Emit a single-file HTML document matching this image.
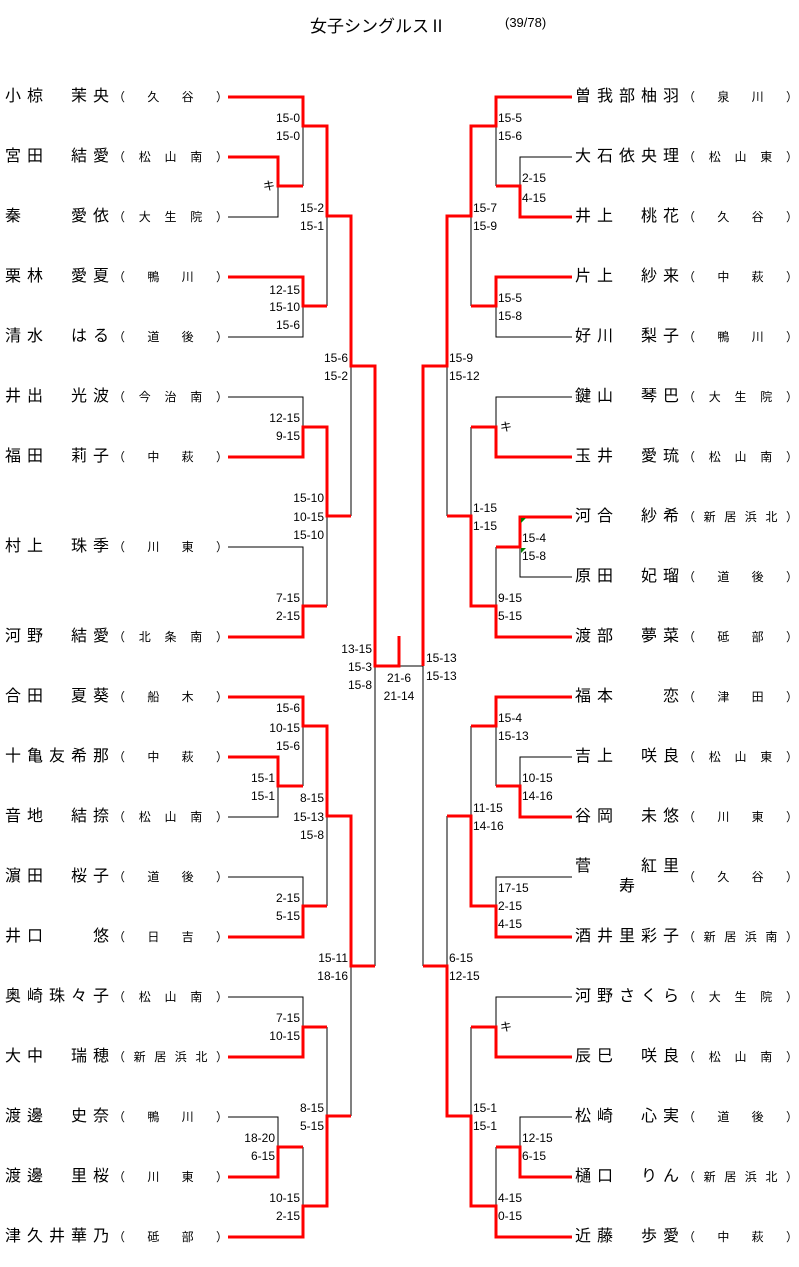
<!DOCTYPE html>
<html><head><meta charset="utf-8"><style>
body{margin:0;background:#fff;width:799px;height:1267px;overflow:hidden;position:relative;font-family:"Liberation Sans","Noto Sans CJK JP",sans-serif}
.n{position:absolute;font-size:16px;letter-spacing:6px;line-height:18px;white-space:pre;color:#000}
.s{position:absolute;width:115px;display:flex;justify-content:space-between;font-size:12px;line-height:14px;color:#000}
svg{position:absolute;left:0;top:0}
</style></head><body>
<div style="position:absolute;left:310px;top:12px;font-size:17px;white-space:pre">女子シングルスⅡ</div>
<div style="position:absolute;left:505px;top:15px;font-size:13px;white-space:pre">(39/78)</div>

<div class="n" style="left:5px;top:88px">小椋　茉央</div><div class="s" style="left:113px;top:90px"><span>（</span><span>久</span><span>谷</span><span>）</span></div>
<div class="n" style="left:5px;top:148px">宮田　結愛</div><div class="s" style="left:113px;top:150px"><span>（</span><span>松</span><span>山</span><span>南</span><span>）</span></div>
<div class="n" style="left:5px;top:208px">秦　　愛依</div><div class="s" style="left:113px;top:210px"><span>（</span><span>大</span><span>生</span><span>院</span><span>）</span></div>
<div class="n" style="left:5px;top:268px">栗林　愛夏</div><div class="s" style="left:113px;top:270px"><span>（</span><span>鴨</span><span>川</span><span>）</span></div>
<div class="n" style="left:5px;top:328px">清水　はる</div><div class="s" style="left:113px;top:330px"><span>（</span><span>道</span><span>後</span><span>）</span></div>
<div class="n" style="left:5px;top:388px">井出　光波</div><div class="s" style="left:113px;top:390px"><span>（</span><span>今</span><span>治</span><span>南</span><span>）</span></div>
<div class="n" style="left:5px;top:448px">福田　莉子</div><div class="s" style="left:113px;top:450px"><span>（</span><span>中</span><span>萩</span><span>）</span></div>
<div class="n" style="left:5px;top:538px">村上　珠季</div><div class="s" style="left:113px;top:540px"><span>（</span><span>川</span><span>東</span><span>）</span></div>
<div class="n" style="left:5px;top:628px">河野　結愛</div><div class="s" style="left:113px;top:630px"><span>（</span><span>北</span><span>条</span><span>南</span><span>）</span></div>
<div class="n" style="left:5px;top:688px">合田　夏葵</div><div class="s" style="left:113px;top:690px"><span>（</span><span>船</span><span>木</span><span>）</span></div>
<div class="n" style="left:5px;top:748px">十亀友希那</div><div class="s" style="left:113px;top:750px"><span>（</span><span>中</span><span>萩</span><span>）</span></div>
<div class="n" style="left:5px;top:808px">音地　結捺</div><div class="s" style="left:113px;top:810px"><span>（</span><span>松</span><span>山</span><span>南</span><span>）</span></div>
<div class="n" style="left:5px;top:868px">濵田　桜子</div><div class="s" style="left:113px;top:870px"><span>（</span><span>道</span><span>後</span><span>）</span></div>
<div class="n" style="left:5px;top:928px">井口　　悠</div><div class="s" style="left:113px;top:930px"><span>（</span><span>日</span><span>吉</span><span>）</span></div>
<div class="n" style="left:5px;top:988px">奥崎珠々子</div><div class="s" style="left:113px;top:990px"><span>（</span><span>松</span><span>山</span><span>南</span><span>）</span></div>
<div class="n" style="left:5px;top:1048px">大中　瑞穂</div><div class="s" style="left:113px;top:1050px"><span>（</span><span>新</span><span>居</span><span>浜</span><span>北</span><span>）</span></div>
<div class="n" style="left:5px;top:1108px">渡邊　史奈</div><div class="s" style="left:113px;top:1110px"><span>（</span><span>鴨</span><span>川</span><span>）</span></div>
<div class="n" style="left:5px;top:1168px">渡邊　里桜</div><div class="s" style="left:113px;top:1170px"><span>（</span><span>川</span><span>東</span><span>）</span></div>
<div class="n" style="left:5px;top:1228px">津久井華乃</div><div class="s" style="left:113px;top:1230px"><span>（</span><span>砥</span><span>部</span><span>）</span></div>

<div class="n" style="left:575px;top:88px">曽我部柚羽</div><div class="s" style="left:683px;top:90px"><span>（</span><span>泉</span><span>川</span><span>）</span></div>
<div class="n" style="left:575px;top:148px">大石依央理</div><div class="s" style="left:683px;top:150px"><span>（</span><span>松</span><span>山</span><span>東</span><span>）</span></div>
<div class="n" style="left:575px;top:208px">井上　桃花</div><div class="s" style="left:683px;top:210px"><span>（</span><span>久</span><span>谷</span><span>）</span></div>
<div class="n" style="left:575px;top:268px">片上　紗来</div><div class="s" style="left:683px;top:270px"><span>（</span><span>中</span><span>萩</span><span>）</span></div>
<div class="n" style="left:575px;top:328px">好川　梨子</div><div class="s" style="left:683px;top:330px"><span>（</span><span>鴨</span><span>川</span><span>）</span></div>
<div class="n" style="left:575px;top:388px">鍵山　琴巴</div><div class="s" style="left:683px;top:390px"><span>（</span><span>大</span><span>生</span><span>院</span><span>）</span></div>
<div class="n" style="left:575px;top:448px">玉井　愛琉</div><div class="s" style="left:683px;top:450px"><span>（</span><span>松</span><span>山</span><span>南</span><span>）</span></div>
<div class="n" style="left:575px;top:508px">河合　紗希</div><div class="s" style="left:683px;top:510px"><span>（</span><span>新</span><span>居</span><span>浜</span><span>北</span><span>）</span></div>
<div class="n" style="left:575px;top:568px">原田　妃瑠</div><div class="s" style="left:683px;top:570px"><span>（</span><span>道</span><span>後</span><span>）</span></div>
<div class="n" style="left:575px;top:628px">渡部　夢菜</div><div class="s" style="left:683px;top:630px"><span>（</span><span>砥</span><span>部</span><span>）</span></div>
<div class="n" style="left:575px;top:688px">福本　　恋</div><div class="s" style="left:683px;top:690px"><span>（</span><span>津</span><span>田</span><span>）</span></div>
<div class="n" style="left:575px;top:748px">吉上　咲良</div><div class="s" style="left:683px;top:750px"><span>（</span><span>松</span><span>山</span><span>東</span><span>）</span></div>
<div class="n" style="left:575px;top:808px">谷岡　未悠</div><div class="s" style="left:683px;top:810px"><span>（</span><span>川</span><span>東</span><span>）</span></div>
<div class="n" style="left:575px;top:858px">菅　　紅里</div><div class="n" style="left:619px;top:878px">寿</div><div class="s" style="left:683px;top:870px"><span>（</span><span>久</span><span>谷</span><span>）</span></div>
<div class="n" style="left:575px;top:928px">酒井里彩子</div><div class="s" style="left:683px;top:930px"><span>（</span><span>新</span><span>居</span><span>浜</span><span>南</span><span>）</span></div>
<div class="n" style="left:575px;top:988px">河野さくら</div><div class="s" style="left:683px;top:990px"><span>（</span><span>大</span><span>生</span><span>院</span><span>）</span></div>
<div class="n" style="left:575px;top:1048px">辰巳　咲良</div><div class="s" style="left:683px;top:1050px"><span>（</span><span>松</span><span>山</span><span>南</span><span>）</span></div>
<div class="n" style="left:575px;top:1108px">松崎　心実</div><div class="s" style="left:683px;top:1110px"><span>（</span><span>道</span><span>後</span><span>）</span></div>
<div class="n" style="left:575px;top:1168px">樋口　りん</div><div class="s" style="left:683px;top:1170px"><span>（</span><span>新</span><span>居</span><span>浜</span><span>北</span><span>）</span></div>
<div class="n" style="left:575px;top:1228px">近藤　歩愛</div><div class="s" style="left:683px;top:1230px"><span>（</span><span>中</span><span>萩</span><span>）</span></div>

<svg width="799" height="1267" xmlns="http://www.w3.org/2000/svg">
<g fill="none" stroke="#000" stroke-width="1">
<path d="M228 217H278V186M228 337H303V306M303 126V186M327 216V306M351 366V516M228 397H303V427M228 547H303V606M327 516V606M375 666V966M399 666H423V966M303 726V786M228 817H278V786M327 816V906M228 877H303V906M351 966V1116M228 997H303V1027M327 1027V1116M228 1117H278V1147M303 1147V1206"/>
<path d="M496 126V186M572 157H520V186M471 216V306M572 337H496V306M447 366V516M572 397H496V427M471 427V516M572 577H520V547M496 547V606M496 726V786M572 757H520V786M471 726V816M572 877H496V906M447 816V966M572 997H496V1027M471 1027V1116M572 1117H520V1147M496 1147V1206"/>
</g>
<g fill="none" stroke="#ff0000" stroke-width="3">
<path d="M228 97H303V126H327V216H351V366H375V666H399V636"/>
<path d="M228 157H278V186H303"/>
<path d="M228 277H303V306H327"/>
<path d="M228 457H303V427H327V516H351"/>
<path d="M228 637H303V606H327"/>
<path d="M228 697H303V726H327V816H351V966H375"/>
<path d="M228 757H278V786H303"/>
<path d="M228 937H303V906H327"/>
<path d="M228 1057H303V1027H327"/>
<path d="M228 1177H278V1147H303"/>
<path d="M228 1237H303V1206H327V1116H351"/>
<path d="M572 97H496V126H471V216H447V366H423V666"/>
<path d="M572 217H520V186H496"/>
<path d="M572 277H496V306H471"/>
<path d="M572 457H496V427H471"/>
<path d="M572 517H520V547H496"/>
<path d="M572 637H496V606H471V516H447"/>
<path d="M572 697H496V726H471"/>
<path d="M572 817H520V786H496"/>
<path d="M572 937H496V906H471V816H447"/>
<path d="M423 966H447V1116H471V1206H496V1237H572"/>
<path d="M572 1057H496V1027H471"/>
<path d="M572 1177H520V1147H496"/>
</g>
<path d="M521 518h5l-5 5z M521 548h5l-5 5z" fill="#008000"/>
<g font-family="Liberation Sans, sans-serif" font-size="12" fill="#000" text-anchor="end">
<text x="300" y="122">15-0</text><text x="300" y="140">15-0</text>
<text x="275" y="190">キ</text>
<text x="324" y="212">15-2</text><text x="324" y="230">15-1</text>
<text x="300" y="294">12-15</text><text x="300" y="311">15-10</text><text x="300" y="329">15-6</text>
<text x="348" y="362">15-6</text><text x="348" y="380">15-2</text>
<text x="300" y="422">12-15</text><text x="300" y="440">9-15</text>
<text x="324" y="502">15-10</text><text x="324" y="521">10-15</text><text x="324" y="539">15-10</text>
<text x="300" y="602">7-15</text><text x="300" y="620">2-15</text>
<text x="372" y="653">13-15</text><text x="372" y="671">15-3</text><text x="372" y="689">15-8</text>
<text x="300" y="712">15-6</text><text x="300" y="732">10-15</text><text x="300" y="750">15-6</text>
<text x="275" y="782">15-1</text><text x="275" y="800">15-1</text>
<text x="324" y="802">8-15</text><text x="324" y="821">15-13</text><text x="324" y="839">15-8</text>
<text x="300" y="902">2-15</text><text x="300" y="920">5-15</text>
<text x="348" y="962">15-11</text><text x="348" y="980">18-16</text>
<text x="300" y="1022">7-15</text><text x="300" y="1040">10-15</text>
<text x="324" y="1112">8-15</text><text x="324" y="1130">5-15</text>
<text x="275" y="1142">18-20</text><text x="275" y="1160">6-15</text>
<text x="300" y="1202">10-15</text><text x="300" y="1220">2-15</text>
</g>
<g font-family="Liberation Sans, sans-serif" font-size="12" fill="#000">
<text x="399" y="682" text-anchor="middle">21-6</text><text x="399" y="700" text-anchor="middle">21-14</text>
<text x="426" y="662">15-13</text><text x="426" y="680">15-13</text>
<text x="498" y="122">15-5</text><text x="498" y="140">15-6</text>
<text x="522" y="182">2-15</text><text x="522" y="202">4-15</text>
<text x="473" y="212">15-7</text><text x="473" y="230">15-9</text>
<text x="498" y="302">15-5</text><text x="498" y="320">15-8</text>
<text x="449" y="362">15-9</text><text x="449" y="380">15-12</text>
<text x="500" y="431">キ</text>
<text x="473" y="512">1-15</text><text x="473" y="530">1-15</text>
<text x="522" y="542">15-4</text><text x="522" y="560">15-8</text>
<text x="498" y="602">9-15</text><text x="498" y="620">5-15</text>
<text x="498" y="722">15-4</text><text x="498" y="740">15-13</text>
<text x="522" y="782">10-15</text><text x="522" y="800">14-16</text>
<text x="473" y="812">11-15</text><text x="473" y="830">14-16</text>
<text x="498" y="892">17-15</text><text x="498" y="910">2-15</text><text x="498" y="928">4-15</text>
<text x="449" y="962">6-15</text><text x="449" y="980">12-15</text>
<text x="500" y="1031">キ</text>
<text x="473" y="1112">15-1</text><text x="473" y="1130">15-1</text>
<text x="522" y="1142">12-15</text><text x="522" y="1160">6-15</text>
<text x="498" y="1202">4-15</text><text x="498" y="1220">0-15</text>
</g>
</svg>
</body></html>
